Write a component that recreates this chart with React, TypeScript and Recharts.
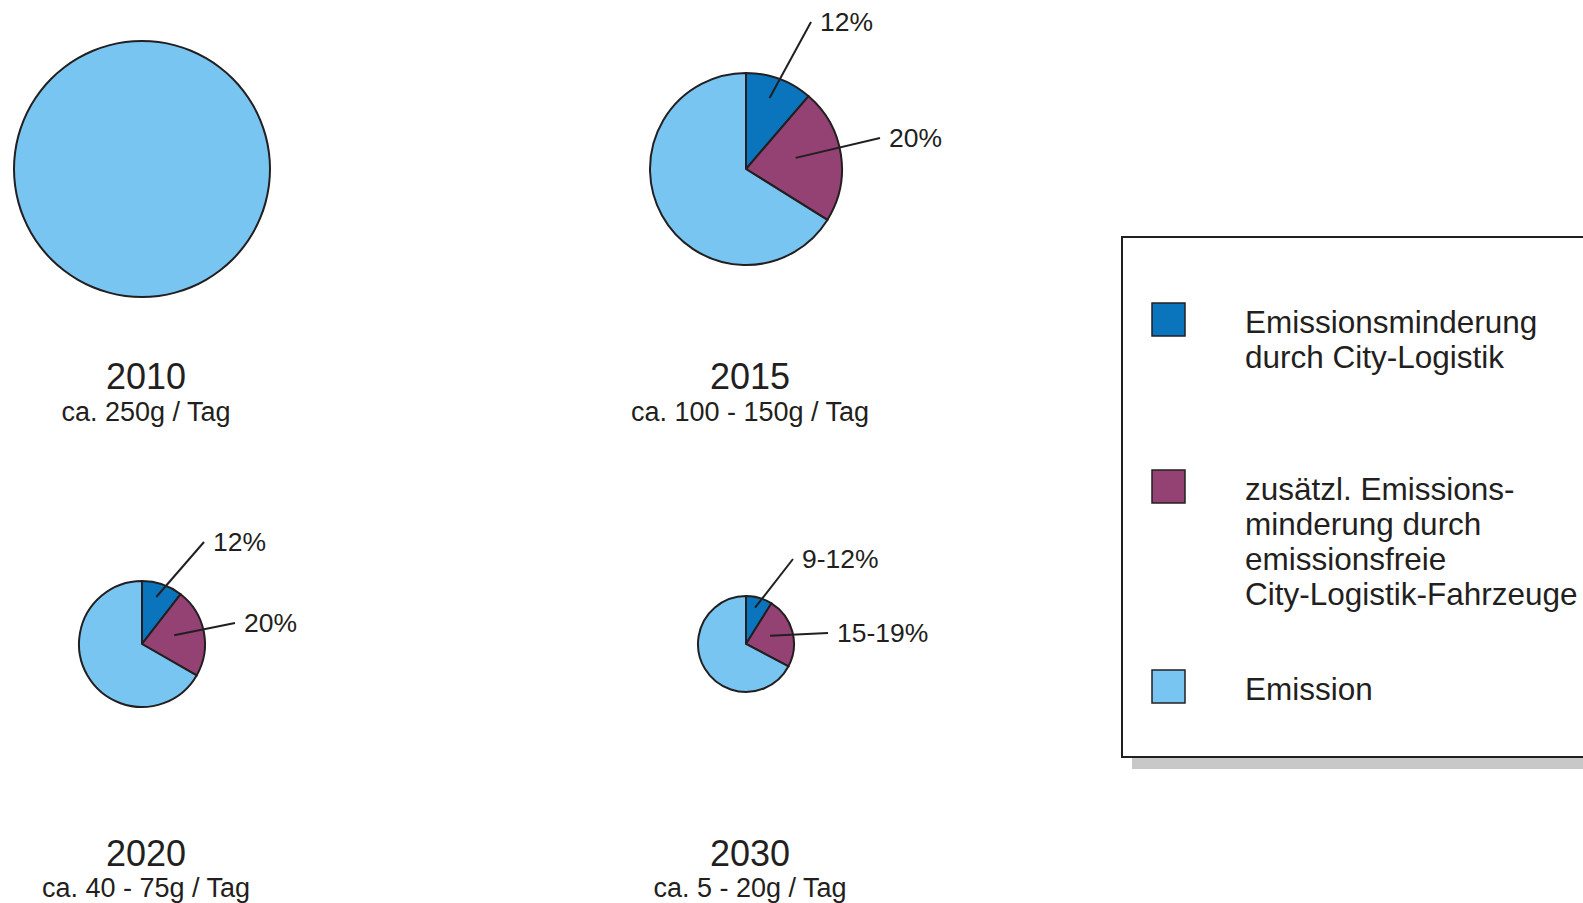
import React from "react";
import { PieChart, Pie, Cell, Legend } from "recharts";

// --- data ---
const years = ["2010", "2015", "2020", "2030"];
const dailyAmounts = ["ca. 250g / Tag", "ca. 100 - 150g / Tag", "ca. 40 - 75g / Tag", "ca. 5 - 20g / Tag"];
const categories = [
  "Emissionsminderung durch City-Logistik",
  "zusätzl. Emissionsminderung durch emissionsfreie City-Logistik-Fahrzeuge",
  "Emission",
];
const legendLines = [
  ["Emissionsminderung", "durch City-Logistik"],
  ["zusätzl. Emissions-", "minderung durch", "emissionsfreie", "City-Logistik-Fahrzeuge"],
  ["Emission"],
];
// slice shares as drawn (percent of each pie)
const cityLogistik = [0, 11.3, 10.5, 8.9];
const emissionFree = [0, 22.6, 22.8, 23.8];
const emission = [100, 66.1, 66.7, 67.3];
const cityLabels = ["", "12%", "12%", "9-12%"];
const freeLabels = ["", "20%", "20%", "15-19%"];

const COLORS = ["#0a75bc", "#944173", "#78c5f1"];
const OUTLINE = "#231f20";
const FONT = '"Liberation Sans", Arial, Helvetica, sans-serif';

const W = 1583;
const H = 903;

// where each pie sits on the canvas, and where its label leaders end (relative to centre)
const PIES = [
  { cx: 142, cy: 169, r: 128, tips: [[0, 0], [0, 0]] },
  { cx: 746, cy: 169, r: 96, tips: [[65, -147], [134, -31]] },
  { cx: 142, cy: 644, r: 63, tips: [[62, -102], [93, -21]] },
  { cx: 746, cy: 644, r: 48, tips: [[47, -85], [82, -11]] },
];

const pieData = years.map((_, i) =>
  [
    { name: categories[0], value: cityLogistik[i], pct: cityLabels[i], kind: 0 },
    { name: categories[1], value: emissionFree[i], pct: freeLabels[i], kind: 1 },
    { name: categories[2], value: emission[i], pct: "", kind: 2 },
  ].filter((d) => d.value > 0)
);

const RAD = Math.PI / 180;
// deg measured clockwise from 12 o'clock
const at = (cx: number, cy: number, dist: number, deg: number) => [
  cx + dist * Math.sin(deg * RAD),
  cy - dist * Math.cos(deg * RAD),
];

function PctLabel(props: any) {
  const { cx, cy, midAngle, outerRadius, tips } = props;
  const entry = props.payload ?? props;
  const text = entry.pct;
  if (!text) return null;
  const r = outerRadius;
  const mid = 90 - midAngle;
  const start = entry.kind === 0 ? at(cx, cy, 0.78 * r, mid - 2) : at(cx, cy, 0.53 * r, mid - 4);
  const tip = tips[entry.kind];
  const end = [cx + tip[0], cy + tip[1]];
  return (
    <g>
      <line x1={start[0]} y1={start[1]} x2={end[0]} y2={end[1]} stroke={OUTLINE} strokeWidth={2} />
      <text
        x={end[0] + 9}
        y={end[1]}
        dominantBaseline="central"
        fontFamily={FONT}
        fontSize={26.5}
        fill={OUTLINE}
      >
        {text}
      </text>
    </g>
  );
}

const rowBaselines = [98, 265, 465];

function LegendBox() {
  return (
    <svg width={463} height={545} style={{ display: "block" }}>
      <rect x={12} y={14} width={470} height={520} fill="#c8c8c8" />
      <rect x={2} y={2} width={470} height={520} fill="#fff" stroke={OUTLINE} strokeWidth={2} />
      {legendLines.map((lines, i) => (
        <g key={categories[i]}>
          <rect
            x={32}
            y={rowBaselines[i] - 30}
            width={33}
            height={33}
            fill={COLORS[i]}
            stroke={OUTLINE}
            strokeWidth={1.5}
          />
          {lines.map((line, j) => (
            <text
              key={line}
              x={125}
              y={rowBaselines[i] + j * 35}
              fontFamily={FONT}
              fontSize={31.5}
              fill={OUTLINE}
            >
              {line}
            </text>
          ))}
        </g>
      ))}
    </svg>
  );
}

export default function App() {
  return (
    <div style={{ position: "absolute", left: 0, top: 0, width: W, height: H, overflow: "hidden", background: "#fff" }}>
      <PieChart width={W} height={H} margin={{ top: 0, right: 0, bottom: 0, left: 0 }}>
        {/* 2010: a single full slice, outlined by a thin ring so no radius line shows */}
        <Pie
          data={pieData[0]}
          dataKey="value"
          cx={PIES[0].cx}
          cy={PIES[0].cy}
          outerRadius={PIES[0].r}
          startAngle={90}
          endAngle={-270}
          stroke="none"
          isAnimationActive={false}
        >
          {pieData[0].map((d) => (
            <Cell key={d.name} fill={COLORS[d.kind]} />
          ))}
        </Pie>
        <Pie
          data={pieData[0]}
          dataKey="value"
          cx={PIES[0].cx}
          cy={PIES[0].cy}
          innerRadius={PIES[0].r - 1}
          outerRadius={PIES[0].r + 1}
          startAngle={90}
          endAngle={-270}
          fill={OUTLINE}
          stroke="none"
          isAnimationActive={false}
        />
        {[1, 2, 3].map((i) => (
          <Pie
            key={years[i]}
            data={pieData[i]}
            dataKey="value"
            cx={PIES[i].cx}
            cy={PIES[i].cy}
            outerRadius={PIES[i].r}
            startAngle={90}
            endAngle={-270}
            stroke={OUTLINE}
            strokeWidth={2}
            label={(p: any) => <PctLabel {...p} tips={PIES[i].tips} />}
            labelLine={false}
            isAnimationActive={false}
          >
            {pieData[i].map((d) => (
              <Cell key={d.name} fill={COLORS[d.kind]} />
            ))}
          </Pie>
        ))}
        <Legend
          content={() => <LegendBox />}
          wrapperStyle={{ left: 1120, top: 235, width: 463, height: 545, bottom: "auto", right: "auto" }}
        />
      </PieChart>
      <svg
        width={W}
        height={H}
        style={{ position: "absolute", left: 0, top: 0, pointerEvents: "none" }}
      >
        {years.map((y, i) => (
          <g key={y}>
            <text
              x={PIES[i].cx + 4}
              y={i < 2 ? 389 : 866}
              textAnchor="middle"
              fontFamily={FONT}
              fontSize={36}
              fill={OUTLINE}
            >
              {y}
            </text>
            <text
              x={PIES[i].cx + 4}
              y={i < 2 ? 421 : 897}
              textAnchor="middle"
              fontFamily={FONT}
              fontSize={27}
              fill={OUTLINE}
            >
              {dailyAmounts[i]}
            </text>
          </g>
        ))}
      </svg>
    </div>
  );
}
